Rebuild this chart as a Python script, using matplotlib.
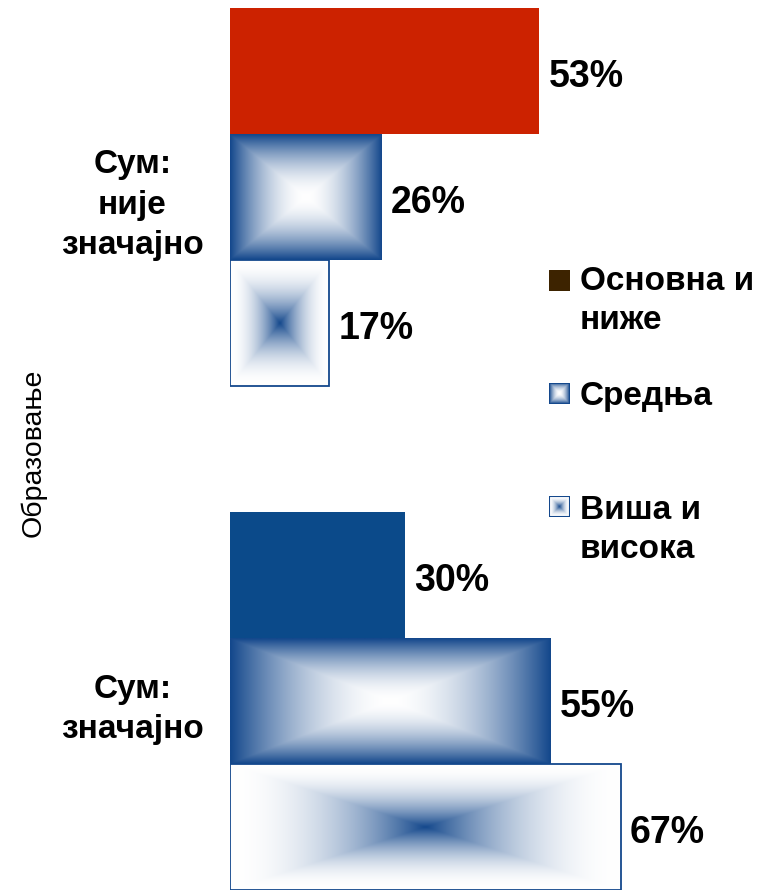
import numpy as np
import matplotlib.pyplot as plt
from matplotlib.patches import Rectangle

plt.rcParams['font.family'] = ['Liberation Sans', 'DejaVu Sans']

groups = ['Сум:\nније\nзначајно', 'Сум:\nзначајно']
series = ['Основна и\nниже', 'Средња', 'Виша и\nвисока']
values = [[53, 26, 17], [30, 55, 67]]
legend_colors = ['#3d2300', None, None]

red = np.array([204, 34, 0]) / 255.
blue = np.array([11, 74, 138]) / 255.
gblue = np.array([20, 72, 140]) / 255.
white = np.array([1.0, 1.0, 1.0])


def box_gradient(nx, ny, dark_edge=True):
    u = np.abs(np.linspace(-1, 1, nx))
    v = np.abs(np.linspace(-1, 1, ny))
    d = np.maximum(u[None, :], v[:, None])
    t = d ** 1.8 if dark_edge else (1 - d) ** 2
    t = t[..., None]
    return white * (1 - t) + gblue * t


fig = plt.figure(figsize=(7.7, 8.92), dpi=100)
ax = fig.add_axes([230 / 770, 2 / 892, 540 / 770, 882 / 892])
xmax = 540 / 5.83

for g, vals in enumerate(values):
    for i, v in enumerate(vals):
        y = g * 4 + i
        if i == 0:
            col = red if g == 0 else blue
            ax.barh(y, v, height=1.0, color=col, edgecolor='none', zorder=2)
        else:
            img = box_gradient(200, 100, dark_edge=(i == 1))
            ax.imshow(img, extent=(0, v, y + 0.5, y - 0.5), aspect='auto',
                      interpolation='bilinear', zorder=2)
            if i == 2:
                ax.add_patch(Rectangle((0, y - 0.5), v, 1.0, fill=False,
                                       edgecolor=gblue, lw=1.3, zorder=3))
        ax.text(v + 1.6, y + 0.05, f'{v}%', va='center', ha='left',
                fontsize=27, fontweight='bold')

ax.set_xlim(0, xmax)
ax.set_ylim(6.5, -0.5)
ax.set_yticks([1, 5])
ax.set_yticklabels(groups, fontsize=24, fontweight='bold',
                   multialignment='center', linespacing=1.4)
ax.tick_params(axis='y', length=0, pad=19)
ax.set_xticks([])
for s in ax.spines.values():
    s.set_visible(False)

fig.text(33 / 770, 1 - 453 / 892, 'Образовање', rotation=90, ha='center',
         va='center', fontsize=20.5)

# legend
leg_y = [281, 394, 507]
text_y = [301, 397, 530]
for i, lab in enumerate(series):
    yc = leg_y[i]
    iax = fig.add_axes([549 / 770, 1 - (yc + 10) / 892, 21 / 770, 21 / 892])
    if i == 0:
        iax.add_patch(Rectangle((0, 0), 1, 1, color=legend_colors[0]))
    else:
        iax.imshow(box_gradient(40, 40, dark_edge=(i == 1)), extent=(0, 1, 0, 1),
                   aspect='auto', interpolation='bilinear')
        iax.add_patch(Rectangle((0, 0), 1, 1, fill=False, edgecolor=gblue, lw=1.5))
    iax.set_xlim(0, 1)
    iax.set_ylim(0, 1)
    iax.axis('off')
    fig.text(580 / 770, 1 - text_y[i] / 892, lab, ha='left', va='center',
             fontsize=24, fontweight='bold', linespacing=1.32)

fig.savefig('out.png', dpi=100)
